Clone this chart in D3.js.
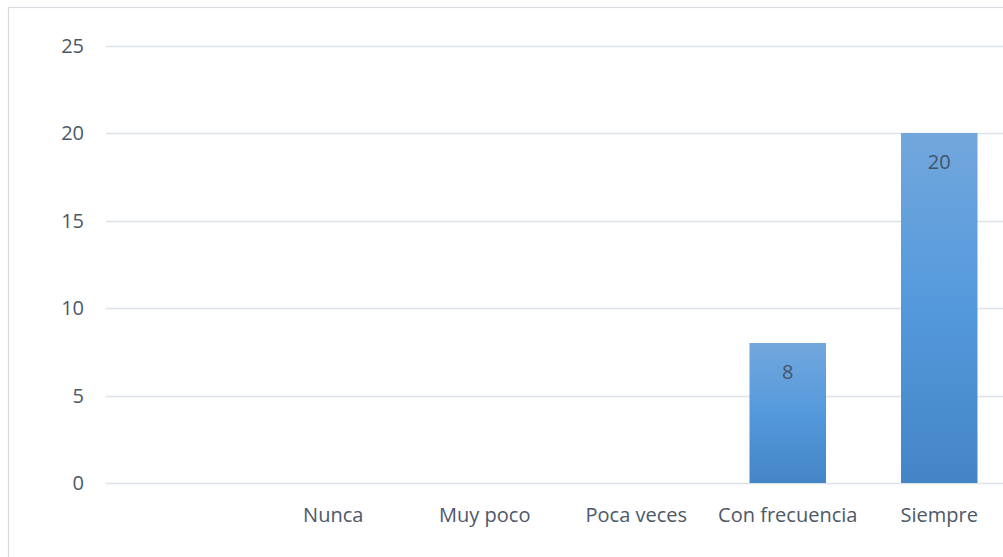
<!DOCTYPE html>
<html><head><meta charset="utf-8">
<script src="https://cdn.jsdelivr.net/npm/d3@7"></script>
<style>html,body{margin:0;padding:0;background:#fff;overflow:hidden}</style>
</head><body>
<svg id="c" width="1003" height="557"></svg>
<script>
const categories = ["", "Nunca", "Muy poco", "Poca veces", "Con frecuencia", "Siempre"];
const values = [null, null, null, null, 8, 20];
const yTicks = [0, 5, 10, 15, 20, 25];

const svg = d3.select("#c");
const font = "Open Sans, Liberation Sans, sans-serif";
const textColor = "#4d5868";
const fs = 20;

svg.append("rect").attr("x", 8.5).attr("y", 7.5).attr("width", 1010).attr("height", 570)
  .attr("fill", "#fff").attr("stroke", "#d6dae1").attr("stroke-width", 1.2);

const defs = svg.append("defs");
const g = defs.append("linearGradient").attr("id", "bg").attr("x1", 0).attr("y1", 0).attr("x2", 0).attr("y2", 1);
g.append("stop").attr("offset", "0%").attr("stop-color", "#72a7dc");
g.append("stop").attr("offset", "50%").attr("stop-color", "#5499dc");
g.append("stop").attr("offset", "100%").attr("stop-color", "#4485c6");

const x = d3.scaleBand().domain(categories.map((c, i) => i)).range([106, 1015]).paddingInner(0.495).paddingOuter(0.2475);
const y = d3.scaleLinear().domain([0, 25]).range([483, 45.5]);

svg.append("g").selectAll("line").data(yTicks).join("line")
  .attr("x1", 106).attr("x2", 1015).attr("y1", d => Math.round(y(d)) + 0.5).attr("y2", d => Math.round(y(d)) + 0.5)
  .attr("stroke", "#dde1e8").attr("stroke-width", 1.5);

svg.append("g").selectAll("text").data(yTicks).join("text")
  .attr("x", 84).attr("y", d => y(d)).attr("dy", "0.35em").attr("text-anchor", "end")
  .attr("font-family", font).attr("font-size", fs).attr("fill", textColor).text(d => d);

const data = categories.map((c, i) => ({i, c, v: values[i]}));
svg.append("g").selectAll("rect").data(data.filter(d => d.v != null)).join("rect")
  .attr("x", d => x(d.i)).attr("width", x.bandwidth())
  .attr("y", d => y(d.v)).attr("height", d => y(0) - y(d.v)).attr("fill", "url(#bg)");

svg.append("g").selectAll("text").data(data.filter(d => d.v != null)).join("text")
  .attr("x", d => x(d.i) + x.bandwidth() / 2).attr("y", d => y(d.v) + 29).attr("dy", "0.35em")
  .attr("text-anchor", "middle").attr("font-family", font).attr("font-size", fs).attr("fill", "#44546a").text(d => d.v);

svg.append("g").selectAll("text").data(data).join("text")
  .attr("x", d => x(d.i) + x.bandwidth() / 2).attr("y", 515).attr("dy", "0.35em")
  .attr("text-anchor", "middle").attr("font-family", font).attr("font-size", fs).attr("fill", textColor).text(d => d.c);
</script>
</body></html>
